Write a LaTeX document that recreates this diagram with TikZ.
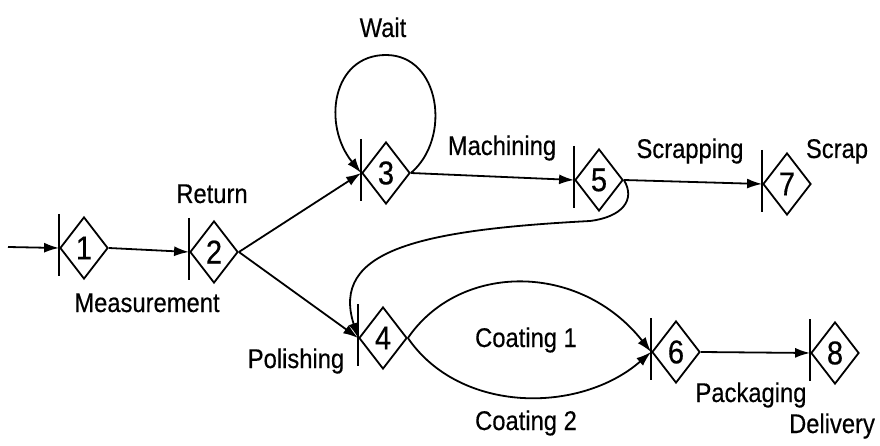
\documentclass[tikz,border=0pt]{standalone}
\usepackage{fontspec}
\setmainfont{Liberation Sans}[FakeStretch=0.88,FakeBold=0.4]
\usetikzlibrary{arrows.meta,shapes.geometric}
\begin{document}
\begin{tikzpicture}[x=1pt,y=-1pt,
  line width=1.8pt,
  station/.style={diamond, draw, line width=1.8pt, minimum width=48pt,
    minimum height=62pt, inner sep=0pt, font=\fontsize{33}{33}\selectfont},
  flow/.style={-{Latex[length=15pt,width=10pt]}},
  lbl/.style={anchor=base, inner sep=0pt, font=\fontsize{27}{27}\selectfont}]
\useasboundingbox (0,0) rectangle (880,446);

% stations
\node[station] (n1) at (84,248) {1};
\node[station] (n2) at (214,252) {2};
\node[station] (n3) at (386,173) {3};
\node[station] (n4) at (383,338) {4};
\node[station] (n5) at (599,180) {5};
\node[station] (n6) at (676,352) {6};
\node[station] (n7) at (787,184) {7};
\node[station] (n8) at (835,353) {8};

% entry bar at the left corner of each station
\foreach \n in {n1,n2,n3,n4,n5,n6,n7,n8}
  \draw[line width=1.5pt] ([yshift=34pt]\n.west) -- ([yshift=-28pt]\n.west);

% connectors
\coordinate (start) at (8,247);
\draw[flow] (start) -- (n1.west);
\draw[flow] (n1.east) -- (n2.west);
\draw[flow] (n2.east) -- (n3.west);
\draw[flow] (n2.east) -- (n4.west);
\draw[flow] (n3.east) .. controls (452,138) and (440,55) .. (386,55)
                      .. controls (332,55) and (322,125) .. (n3.west);
\draw[flow] (n3.east) -- (n5.west);
\draw[flow] (n5.east) -- (n7.west);
\draw[flow] (n5.east) .. controls (636,200) and (622,217) .. (590,221)
                      .. controls (420,230) and (330,250) .. (n4.west);
\draw[flow] (n4.east) .. controls (460,262) and (580,262) .. (n6.west);
\draw[flow] (n4.east) .. controls (460,414) and (580,414) .. (n6.west);
\draw[flow] (n6.east) -- (n8.west);

% labels
\node[lbl] (lwait) at (383,37) {Wait};
\node[lbl] (lret) at (212,203) {Return};
\node[lbl] (lmach) at (502,155) {Machining};
\node[lbl] (lscr) at (690,158) {Scrapping};
\node[lbl] (lscrap) at (837,158) {Scrap};
\node[lbl] (lmeas) at (147,312) {Measurement};
\node[lbl] (lpol) at (296,368) {Polishing};
\node[lbl] (lc1) at (526,347) {Coating 1};
\node[lbl] (lc2) at (526,430) {Coating 2};
\node[lbl] (lpack) at (751,402) {Packaging};
\node[lbl] (ldel) at (832,433) {Delivery};
\end{tikzpicture}
\end{document}
